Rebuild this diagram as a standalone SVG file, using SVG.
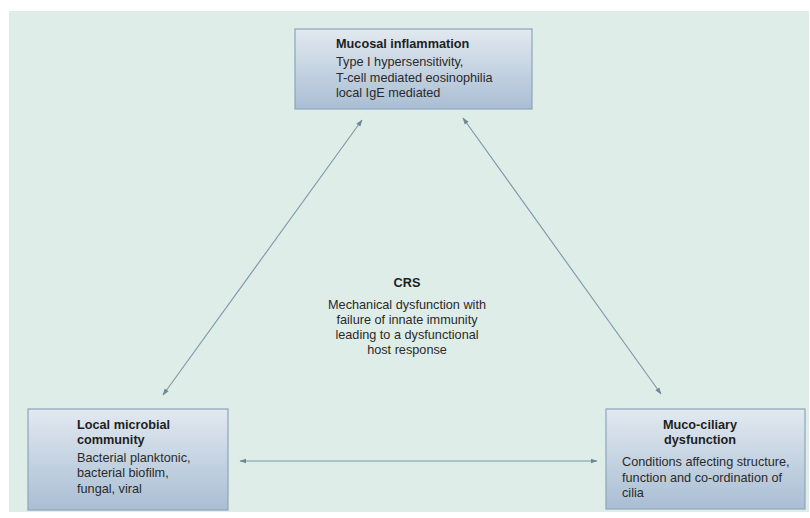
<svg xmlns="http://www.w3.org/2000/svg" width="810" height="518" viewBox="0 0 810 518">
<defs>
<linearGradient id="boxg" x1="0" y1="0" x2="0" y2="1">
<stop offset="0" stop-color="#e2e9f0"/>
<stop offset="1" stop-color="#a9bed4"/>
</linearGradient>
<marker id="ah" viewBox="0 0 10 10" refX="9" refY="5" markerWidth="7" markerHeight="7" orient="auto-start-reverse" markerUnits="userSpaceOnUse">
<path d="M0,1.5 L10,5 L0,8.5 Z" fill="#6f8898"/>
</marker>
<style>
.box{fill:url(#boxg);stroke:#8ea4b9;stroke-width:1.2}
.t{font-family:"Liberation Sans",Arial,sans-serif;font-size:12.7px;fill:#2a2a2a}
.b{font-weight:bold;fill:#1e1e1e}
.c{text-anchor:middle}
.ln{stroke:#7d96a7;stroke-width:1.1;fill:none;marker-start:url(#ah);marker-end:url(#ah)}
</style>
</defs>
<rect x="0" y="0" width="810" height="518" fill="#ffffff"/>
<rect x="9" y="11" width="800" height="501" fill="#deede8"/>
<g id="connectors">
<line class="ln" x1="362" y1="120" x2="163" y2="395"/>
<line class="ln" x1="463" y1="118" x2="661" y2="394"/>
<line class="ln" x1="240" y1="461" x2="597" y2="461"/>
</g>
<g id="mucosal">
<rect class="box" x="295" y="29" width="237" height="80"/>
<text class="t b" x="336" y="48">Mucosal inflammation</text>
<text class="t" x="336" y="66">Type I hypersensitivity,</text>
<text class="t" x="336" y="82">T-cell mediated eosinophilia</text>
<text class="t" x="336" y="97">local IgE mediated</text>
</g>
<g id="microbial">
<rect class="box" x="28" y="409" width="200" height="101"/>
<text class="t b" x="77" y="429">Local microbial</text>
<text class="t b" x="77" y="444">community</text>
<text class="t" x="77" y="462">Bacterial planktonic,</text>
<text class="t" x="77" y="477">bacterial biofilm,</text>
<text class="t" x="77" y="493">fungal, viral</text>
</g>
<g id="mucociliary">
<rect class="box" x="606" y="409" width="199" height="100"/>
<text class="t b c" x="700" y="429">Muco-ciliary</text>
<text class="t b c" x="700" y="444">dysfunction</text>
<text class="t" x="622" y="466">Conditions affecting structure,</text>
<text class="t" x="622" y="482">function and co-ordination of</text>
<text class="t" x="622" y="497">cilia</text>
</g>
<g id="crs">
<text class="t b c" x="407" y="287">CRS</text>
<text class="t c" x="407" y="309">Mechanical dysfunction with</text>
<text class="t c" x="407" y="324">failure of innate immunity</text>
<text class="t c" x="407" y="339">leading to a dysfunctional</text>
<text class="t c" x="407" y="354">host response</text>
</g>
</svg>
